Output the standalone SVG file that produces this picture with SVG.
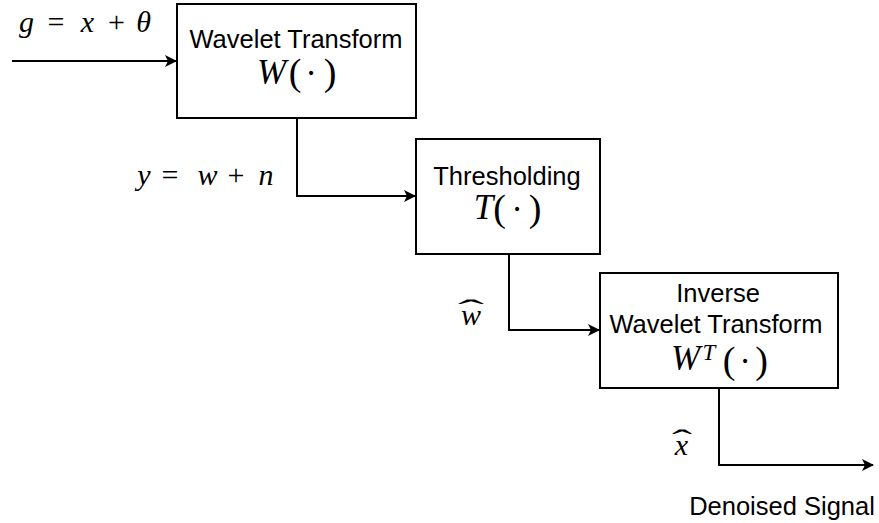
<svg xmlns="http://www.w3.org/2000/svg" width="879" height="523" viewBox="0 0 879 523">
  <defs>
    <marker id="arrow" viewBox="0 0 12 12" refX="11" refY="6" markerWidth="12" markerHeight="12" markerUnits="userSpaceOnUse" orient="auto">
      <path d="M0,0 L12,6 L0,12 L3,6 Z" fill="#000"/>
    </marker>
    <style>
      .box { fill: #fff; stroke: #000; stroke-width: 2; }
      .wire { fill: none; stroke: #000; stroke-width: 2; marker-end: url(#arrow); }
      .lbl { font-family: "Liberation Sans", Arial, sans-serif; font-size: 25.5px; fill: #000; text-anchor: middle; }
      .math { font-family: "Liberation Serif", "Times New Roman", serif; font-size: 30px; fill: #000; text-anchor: middle; }
      .big { font-size: 35px; }
      .par { font-size: 38px; font-style: normal; }
      .mi { font-style: italic; }
      .hat { font-style: normal; text-anchor: start; }
    </style>
  </defs>

  <g id="connectors">
    <path class="wire" d="M12,61 L176,61"/>
    <path class="wire" d="M297,118 L297,196 L415,196"/>
    <path class="wire" d="M509,254 L509,330 L599,330"/>
    <path class="wire" d="M719,388 L719,465 L873,465"/>
  </g>

  <g id="wavelet-transform">
    <rect class="box" x="177" y="4" width="239" height="114"/>
    <text class="lbl" x="296" y="48">Wavelet Transform</text>
    <text class="math big" y="84"><tspan class="mi" x="271.5">W</tspan><tspan class="par" x="295" y="85">(</tspan><tspan x="311">·</tspan><tspan class="par" x="330">)</tspan></text>
  </g>

  <g id="thresholding">
    <rect class="box" x="416" y="139" width="184" height="115"/>
    <text class="lbl" x="507" y="185">Thresholding</text>
    <text class="math big" y="219"><tspan class="mi" x="483.5">T</tspan><tspan class="par" x="499.5" y="221">(</tspan><tspan x="517">·</tspan><tspan class="par" x="535">)</tspan></text>
  </g>

  <g id="inverse-wavelet-transform">
    <rect class="box" x="600" y="273" width="238" height="115"/>
    <text class="lbl" x="718" y="302">Inverse</text>
    <text class="lbl" x="716" y="333">Wavelet Transform</text>
    <text class="math big" y="370"><tspan class="mi" x="685.5">W</tspan><tspan class="mi" x="709" y="360" font-size="23">T</tspan><tspan class="par" x="729" y="373">(</tspan><tspan x="745">·</tspan><tspan class="par" x="761.5">)</tspan></text>
  </g>

  <g id="labels">
    <text class="math" y="32"><tspan class="mi" x="26.5">g</tspan><tspan x="56">=</tspan><tspan class="mi" x="87.5">x</tspan><tspan x="116.5">+</tspan><tspan class="mi" x="143.5">θ</tspan></text>
    <text class="math" y="185"><tspan class="mi" x="144">y</tspan><tspan x="170">=</tspan><tspan class="mi" x="207.5">w</tspan><tspan x="236">+</tspan><tspan class="mi" x="266">n</tspan></text>
    <!-- accented symbols: the wide hat is stretched to the letter's width -->
    <text class="math"><tspan class="mi" x="471" y="325">w</tspan><tspan class="hat" x="458" y="320" textLength="26" lengthAdjust="spacingAndGlyphs">ˆ</tspan></text>
    <text class="math"><tspan class="mi" x="681.5" y="455">x</tspan><tspan class="hat" x="672" y="450" textLength="20" lengthAdjust="spacingAndGlyphs">ˆ</tspan></text>
    <text class="lbl" x="782" y="515" font-size="26">Denoised Signal</text>
  </g>
</svg>
